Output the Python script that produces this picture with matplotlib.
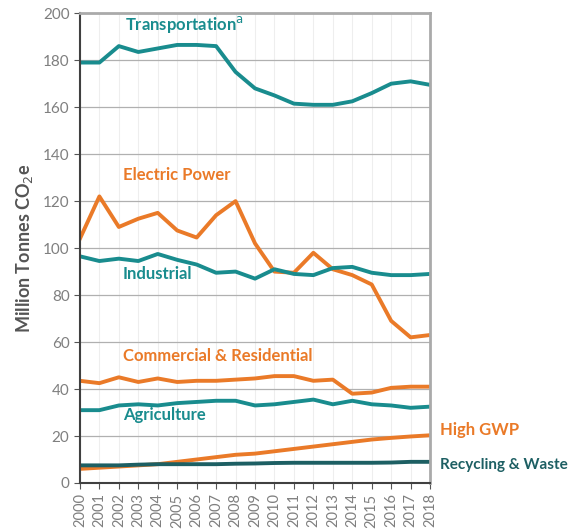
import matplotlib
matplotlib.use("Agg")
import matplotlib.pyplot as plt
import numpy as np

plt.rcParams['font.family'] = ['Lato', 'DejaVu Sans']

years = list(range(2000, 2019))

transportation = [179, 179, 186, 183.5, 185, 186.5, 186.5, 186, 175, 168, 165, 161.5, 161, 161, 162.5, 166, 170, 171, 169.5]
electric_power = [104, 122, 109, 112.5, 115, 107.5, 104.5, 114, 120, 102, 90, 89.5, 98, 91, 88.5, 84.5, 69, 62, 63]
industrial = [96.5, 94.5, 95.5, 94.5, 97.5, 95, 93, 89.5, 90, 87, 91, 89, 88.5, 91.5, 92, 89.5, 88.5, 88.5, 89]
commercial_res = [43.5, 42.5, 45, 43, 44.5, 43, 43.5, 43.5, 44, 44.5, 45.5, 45.5, 43.5, 44, 38, 38.5, 40.5, 41, 41]
agriculture = [31, 31, 33, 33.5, 33, 34, 34.5, 35, 35, 33, 33.5, 34.5, 35.5, 33.5, 35, 33.5, 33, 32, 32.5]
high_gwp = [6, 6.5, 7, 7.5, 8, 9, 10, 11, 12, 12.5, 13.5, 14.5, 15.5, 16.5, 17.5, 18.5, 19.2, 19.8, 20.3]
recycling = [7.5, 7.5, 7.5, 7.8, 8, 8, 8, 8, 8.2, 8.3, 8.5, 8.6, 8.6, 8.6, 8.6, 8.6, 8.7, 9, 9]

teal = '#198c8e'
orange = '#ea7a28'
dark_teal = '#1d5f63'
gray = '#7f7f7f'

fig = plt.figure(figsize=(5.75, 5.29), dpi=100)
ax = fig.add_axes([0.139, 0.087, 0.609, 0.888])

lw = 2.8
ax.plot(years, transportation, color=teal, lw=lw)
ax.plot(years, electric_power, color=orange, lw=lw)
ax.plot(years, industrial, color=teal, lw=lw)
ax.plot(years, commercial_res, color=orange, lw=lw)
ax.plot(years, agriculture, color=teal, lw=lw)
ax.plot(years, high_gwp, color=orange, lw=lw)
ax.plot(years, recycling, color=dark_teal, lw=lw)

ax.set_xlim(2000, 2018)
ax.set_ylim(0, 200)
ax.set_yticks(range(0, 201, 20))
ax.set_xticks(years)
ax.set_xticklabels([str(y) for y in years], rotation=90)
ax.tick_params(axis='both', colors='#555555', labelcolor=gray, labelsize=11, direction='out', length=4)
ax.tick_params(axis='x', labelsize=10.5)

ax.yaxis.grid(True, color='#b0b0b0', lw=0.9)
ax.xaxis.grid(True, color='#eeeeee', lw=0.8)
ax.set_axisbelow(True)

ax.spines['left'].set_color('#404040')
ax.spines['left'].set_linewidth(1.5)
ax.spines['bottom'].set_color('#404040')
ax.spines['bottom'].set_linewidth(1.5)
ax.spines['top'].set_color('#aaaaaa')
ax.spines['top'].set_linewidth(2)
ax.spines['right'].set_color('#aaaaaa')
ax.spines['right'].set_linewidth(2)

ax.set_ylabel('Million Tonnes CO$_2$e', color='#555555', fontsize=13, fontweight='bold', labelpad=6)

kw = dict(fontsize=12, fontweight='bold')
ax.text(2002.3, 195, 'Transportation$^{\\mathrm{a}}$', color=teal, va='center', **kw)
ax.text(2002.2, 131, 'Electric Power', color=orange, va='center', **kw)
ax.text(2002.2, 89, 'Industrial', color=teal, va='center', **kw)
ax.text(2002.2, 54, 'Commercial & Residential', color=orange, va='center', **kw)
ax.text(2002.2, 29, 'Agriculture', color=teal, va='center', **kw)
ax.text(2018.5, 22.5, 'High GWP', color=orange, va='center', fontsize=12, fontweight='bold', clip_on=False)
ax.text(2018.5, 7.5, 'Recycling & Waste', color=dark_teal, va='center', fontsize=11, fontweight='bold', clip_on=False)

fig.savefig('out.png', dpi=100)
